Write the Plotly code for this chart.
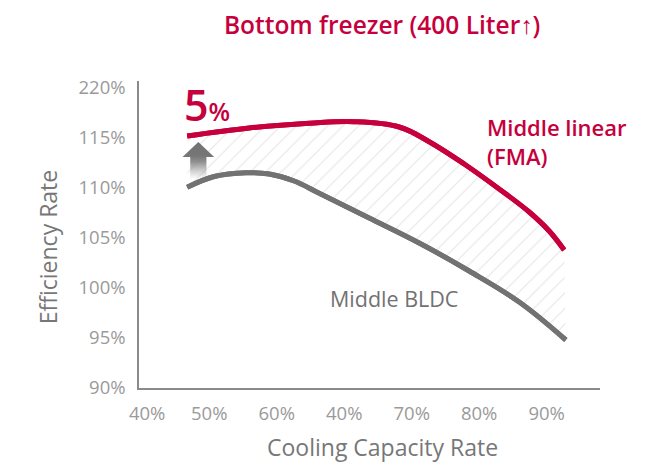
import plotly.graph_objects as go

# ---- data ----
fma_x = [46.74, 55.93, 64.81, 71.48, 78.15, 82.59, 87.78, 92.96, 97.41, 100.37, 102.59]
fma_y = [115.2, 116.0, 116.47, 116.63, 116.1, 114.63, 112.4, 109.9, 107.6, 105.7, 103.8]
bldc_x = [46.74, 50.74, 55.48, 58.89, 62.59, 66.30, 73.70, 81.11, 88.52, 95.93, 102.84]
bldc_y = [110.07, 111.15, 111.53, 111.4, 110.7, 109.47, 107.0, 104.5, 101.7, 98.6, 94.8]

x_tickvals = [40.8, 50, 60, 70, 80, 90, 100]
x_ticktext = ['40%', '50%', '60%', '40%', '70%', '80%', '90%']
y_tickvals = [90, 95, 100, 105, 110, 115, 120]
y_ticktext = ['90%', '95%', '100%', '105%', '110%', '115%', '220%']

RED = '#C6003D'
GRAY = '#727272'
FONT = 'Open Sans'
LINE_RED = dict(color=RED, width=5, shape='spline', smoothing=1.1)
LINE_GRAY = dict(color=GRAY, width=5, shape='spline', smoothing=1.1)

fig = go.Figure()

# hatched gap between curves
fig.add_trace(go.Scatter(x=bldc_x, y=bldc_y, mode='lines', line=LINE_GRAY,
                         hoverinfo='skip', showlegend=False))
fig.add_trace(go.Scatter(x=fma_x, y=fma_y, mode='lines', line=LINE_RED,
                         fill='tonexty', fillcolor='white',
                         fillpattern=dict(shape='/', fgcolor='#cccccc', bgcolor='white', size=11, solidity=0.1),
                         hoverinfo='skip', showlegend=False))

# arrow (decoration) showing the gain at the start of the curves
cx = fma_x[0] + 1.65
tip = fma_y[0] - 0.6
base = tip - 1.5
bottom = bldc_y[0] + 0.9
hw, sw = 2.35, 1.2
ax = [cx, cx + hw, cx + sw, cx + sw, cx - sw, cx - sw, cx - hw, cx]
ay = [tip, base, base, bottom, bottom, base, base, tip]
fig.add_trace(go.Scatter(x=ax, y=ay, mode='lines', line=dict(width=0, color='rgba(0,0,0,0)'),
                         fill='toself',
                         fillgradient=dict(type='vertical',
                                           colorscale=[[0, 'rgba(150,150,150,0.05)'], [0.45, 'rgba(125,125,125,0.85)'],
                                                       [0.62, '#767676'], [1, '#727272']]),
                         hoverinfo='skip', showlegend=False))

# redraw lines on top
fig.add_trace(go.Scatter(x=bldc_x, y=bldc_y, mode='lines', line=LINE_GRAY,
                         hoverinfo='skip', showlegend=False))
fig.add_trace(go.Scatter(x=fma_x, y=fma_y, mode='lines', line=LINE_RED,
                         hoverinfo='skip', showlegend=False))

annotations = [
    dict(text='Cooling Capacity Rate', xref='paper', yref='paper', x=0.529, y=-0.192,
         showarrow=False, font=dict(size=23, color='#777777', family=FONT), xanchor='center', yanchor='middle'),
    dict(text='Efficiency Rate', xref='paper', yref='paper', x=-0.197, y=0.459, textangle=-90,
         showarrow=False, font=dict(size=23, color='#777777', family=FONT), xanchor='center', yanchor='middle'),
    dict(text='Middle linear', x=90.9, y=116.1, showarrow=False, xanchor='left', yanchor='middle',
         font=dict(size=22, color=RED, family=FONT, weight=600)),
    dict(text='(FMA)', x=90.9, y=113.2, showarrow=False, xanchor='left', yanchor='middle',
         font=dict(size=22, color=RED, family=FONT, weight=600)),
    dict(text='Middle BLDC', x=77.4, y=99.0, showarrow=False, xanchor='center', yanchor='middle',
         font=dict(size=21.5, color=GRAY, family=FONT)),
    dict(text="5<span style='font-size:25px'>%</span>", x=46.0, y=118.4, showarrow=False,
         xanchor='left', yanchor='middle', font=dict(size=43, color=RED, family=FONT, weight=600)),
]

fig.update_layout(
    width=654, height=458,
    margin=dict(l=131, r=62, t=73, b=78),
    paper_bgcolor='white', plot_bgcolor='white',
    title=dict(text='Bottom freezer (400 Liter↑)', x=0.572, y=0.961, xref='container', yref='container',
               xanchor='center', yanchor='middle', font=dict(size=24.5, color=RED, family=FONT, weight=600)),
    xaxis=dict(range=[39.6, 107.9], tickvals=x_tickvals, ticktext=x_ticktext, showgrid=False, zeroline=False,
               showline=True, linecolor='#8a8a8a', linewidth=1.5, ticks='outside', ticklen=8,
               tickcolor='rgba(0,0,0,0)', tickfont=dict(size=18.5, color='#9a9a9a', family=FONT)),
    yaxis=dict(range=[90, 120.7], tickvals=y_tickvals, ticktext=y_ticktext, showgrid=False, zeroline=False,
               showline=True, linecolor='#8a8a8a', linewidth=1.5, ticks='outside', ticklen=8,
               tickcolor='rgba(0,0,0,0)', tickfont=dict(size=18.5, color='#9a9a9a', family=FONT)),
    annotations=annotations,
    showlegend=False,
)

fig.write_html('out.html')
